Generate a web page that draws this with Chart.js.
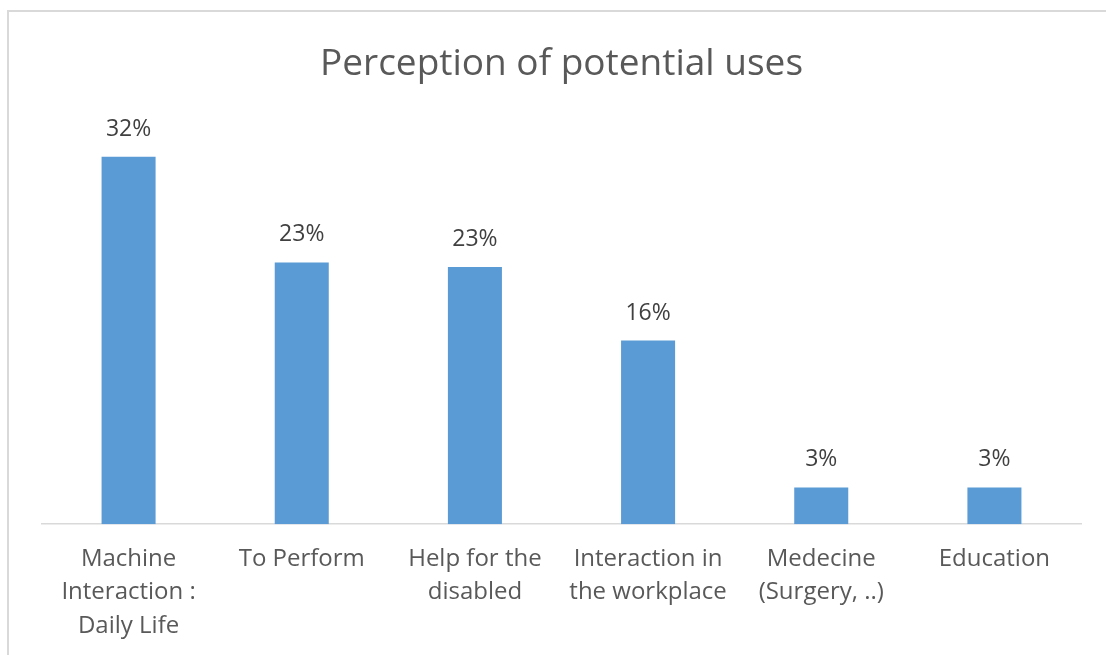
<!DOCTYPE html>
<html>
<head>
<meta charset="utf-8">
<script src="https://cdn.jsdelivr.net/npm/chart.js@4"></script>
<style>
  html, body { margin: 0; padding: 0; background: #fff; }
  #wrap { position: relative; width: 1106px; height: 655px; overflow: hidden; }
  #frame { position: absolute; left: 7px; top: 10px; width: 1120px; height: 680px; border: 2px solid #d9d9d9; box-sizing: border-box; }
  canvas { position: absolute; left: 0; top: 0; }
</style>
</head>
<body>
<div id="wrap">
  <div id="frame"></div>
  <canvas id="c" width="1106" height="655"></canvas>
</div>
<script>
const titleText = 'Perception of potential uses';
const categories = [
  ['Machine', 'Interaction :', 'Daily Life'],
  ['To Perform'],
  ['Help for the', 'disabled'],
  ['Interaction in', 'the workplace'],
  ['Medecine', '(Surgery, ..)'],
  ['Education']
];
const values = [32, 22.8, 22.4, 16, 3.2, 3.2];
const valueLabels = ['32%', '23%', '23%', '16%', '3%', '3%'];

const FONT = '"Open Sans", Lato, sans-serif';

const labelPlugin = {
  id: 'barLabels',
  afterDatasetsDraw(chart) {
    const ctx = chart.ctx;
    const meta = chart.getDatasetMeta(0);
    ctx.save();
    ctx.font = '23px ' + FONT;
    ctx.fillStyle = '#404040';
    ctx.textAlign = 'center';
    ctx.textBaseline = 'alphabetic';
    meta.data.forEach((bar, i) => {
      ctx.fillText(valueLabels[i], bar.x, bar.y - 21);
    });
    ctx.restore();
  }
};

new Chart(document.getElementById('c'), {
  type: 'bar',
  data: {
    labels: categories,
    datasets: [{
      data: values,
      backgroundColor: '#5b9bd5',
      borderWidth: 0,
      barPercentage: 0.312,
      categoryPercentage: 1
    }]
  },
  options: {
    responsive: false,
    animation: false,
    layout: { padding: { left: 42, right: 25, top: 0, bottom: -6 } },
    plugins: {
      legend: { display: false },
      tooltip: { enabled: false },
      title: {
        display: true,
        text: titleText,
        color: '#595959',
        font: { family: FONT, size: 37, weight: 'normal', lineHeight: 1.2 },
        padding: { top: 42, bottom: 36 }
      }
    },
    scales: {
      x: {
        grid: { display: false, drawTicks: false },
        border: { display: true, color: '#d9d9d9', width: 1.5 },
        ticks: {
          color: '#595959',
          padding: 18,
          maxRotation: 0,
          autoSkip: false,
          font: { family: FONT, size: 24, lineHeight: 1.4 }
        }
      },
      y: {
        display: false,
        min: 0,
        max: 35
      }
    }
  },
  plugins: [labelPlugin]
});
</script>
</body>
</html>
